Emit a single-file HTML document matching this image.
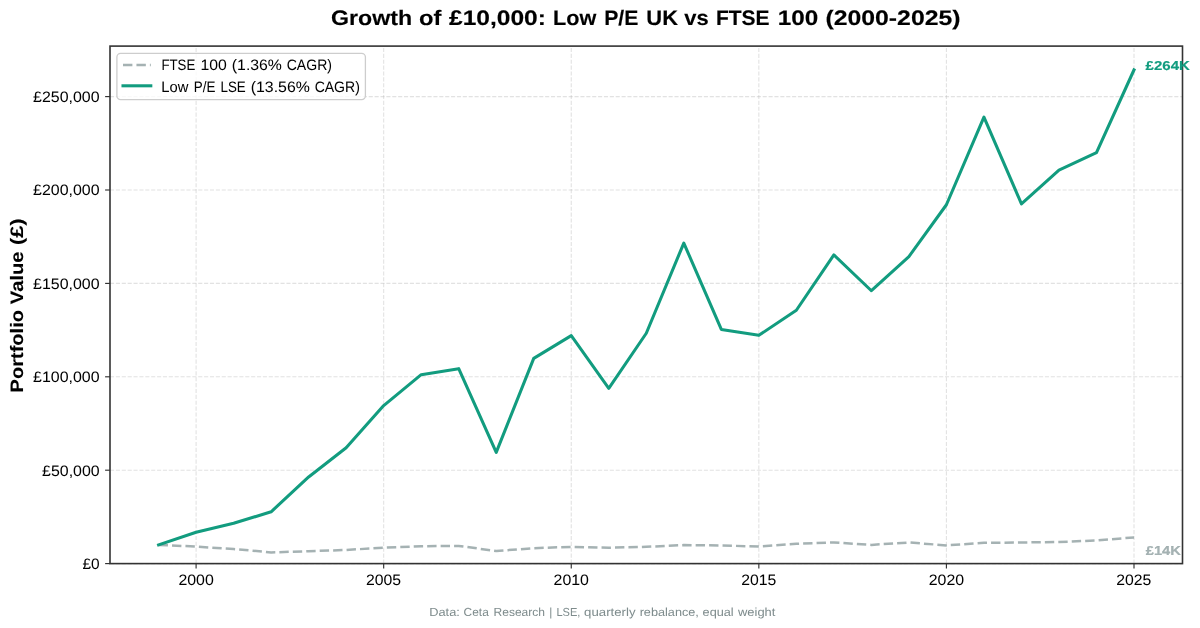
<!DOCTYPE html>
<html><head><meta charset="utf-8"><style>
html,body{margin:0;padding:0;background:#fff;width:1200px;height:628px;overflow:hidden}
svg{display:block;will-change:transform}
text{font-family:"Liberation Sans", sans-serif;text-rendering:geometricPrecision}
</style></head><body>
<svg width="1200" height="628" viewBox="0 0 1200 628">
<rect x="0" y="0" width="1200" height="628" fill="#fff"/>
<g stroke="#b0b0b0" stroke-opacity="0.36" stroke-width="1.11" stroke-dasharray="4.1 1.78" fill="none"><line x1="110.0" y1="563.60" x2="1182.5" y2="563.60"/><line x1="110.0" y1="470.20" x2="1182.5" y2="470.20"/><line x1="110.0" y1="376.80" x2="1182.5" y2="376.80"/><line x1="110.0" y1="283.40" x2="1182.5" y2="283.40"/><line x1="110.0" y1="190.00" x2="1182.5" y2="190.00"/><line x1="110.0" y1="96.60" x2="1182.5" y2="96.60"/><line x1="196.10" y1="563.6" x2="196.10" y2="46.1"/><line x1="383.68" y1="563.6" x2="383.68" y2="46.1"/><line x1="571.26" y1="563.6" x2="571.26" y2="46.1"/><line x1="758.84" y1="563.6" x2="758.84" y2="46.1"/><line x1="946.42" y1="563.6" x2="946.42" y2="46.1"/><line x1="1134.00" y1="563.6" x2="1134.00" y2="46.1"/></g>
<path d="M158.58,544.92 L196.10,546.60 L233.62,549.03 L271.13,552.39 L308.65,551.20 L346.16,549.96 L383.68,547.70 L421.20,546.19 L458.71,545.89 L496.23,550.99 L533.74,548.19 L571.26,546.88 L608.78,547.70 L646.29,546.79 L683.81,545.11 L721.32,545.48 L758.84,546.49 L796.36,543.80 L833.87,542.40 L871.39,544.90 L908.90,542.49 L946.42,545.39 L983.94,542.87 L1021.45,542.49 L1058.97,541.99 L1096.48,540.49 L1134.00,537.39" fill="none" stroke="#95a5a6" stroke-opacity="0.85" stroke-width="2.5" stroke-dasharray="9.39 4.06" stroke-linejoin="round" stroke-linecap="butt"/>
<path d="M158.58,544.92 L196.10,532.29 L233.62,523.29 L271.13,511.78 L308.65,476.98 L346.16,447.67 L383.68,405.57 L421.20,374.65 L458.71,368.66 L496.23,452.38 L533.74,358.36 L571.26,335.65 L608.78,388.27 L646.29,333.26 L683.81,243.05 L721.32,329.45 L758.84,335.35 L796.36,310.24 L833.87,254.93 L871.39,290.74 L908.90,256.54 L946.42,204.76 L983.94,117.20 L1021.45,203.82 L1058.97,170.11 L1096.48,152.60 L1134.00,69.89" fill="none" stroke="#129c7f" stroke-width="3.06" stroke-linejoin="round" stroke-linecap="square"/>
<rect x="110.0" y="46.1" width="1072.5" height="517.5" fill="none" stroke="#333" stroke-width="1.6"/>
<g stroke="#333" stroke-width="1.15"><line x1="105.10" y1="563.60" x2="110.0" y2="563.60"/><line x1="105.10" y1="470.20" x2="110.0" y2="470.20"/><line x1="105.10" y1="376.80" x2="110.0" y2="376.80"/><line x1="105.10" y1="283.40" x2="110.0" y2="283.40"/><line x1="105.10" y1="190.00" x2="110.0" y2="190.00"/><line x1="105.10" y1="96.60" x2="110.0" y2="96.60"/><line x1="196.10" y1="563.6" x2="196.10" y2="568.50"/><line x1="383.68" y1="563.6" x2="383.68" y2="568.50"/><line x1="571.26" y1="563.6" x2="571.26" y2="568.50"/><line x1="758.84" y1="563.6" x2="758.84" y2="568.50"/><line x1="946.42" y1="563.6" x2="946.42" y2="568.50"/><line x1="1134.00" y1="563.6" x2="1134.00" y2="568.50"/></g>
<text transform="translate(82.43,569.05) scale(1.0221,1)" font-size="15.12" stroke="#000" stroke-width="0.02" fill="#000">£0</text>
<text transform="translate(42.06,475.65) scale(1.0538,1)" font-size="15.12" stroke="#000" stroke-width="0.02" fill="#000">£50,000</text>
<text transform="translate(33.10,382.25) scale(1.0550,1)" font-size="15.12" stroke="#000" stroke-width="0.02" fill="#000">£100,000</text>
<text transform="translate(33.10,288.85) scale(1.0550,1)" font-size="15.12" stroke="#000" stroke-width="0.02" fill="#000">£150,000</text>
<text transform="translate(33.10,195.45) scale(1.0550,1)" font-size="15.12" stroke="#000" stroke-width="0.02" fill="#000">£200,000</text>
<text transform="translate(33.10,102.05) scale(1.0550,1)" font-size="15.12" stroke="#000" stroke-width="0.02" fill="#000">£250,000</text>
<text transform="translate(178.39,584.70) scale(1.0519,1)" font-size="15.12" stroke="#000" stroke-width="0.02" fill="#000">2000</text>
<text transform="translate(365.97,584.70) scale(1.0444,1)" font-size="15.12" stroke="#000" stroke-width="0.02" fill="#000">2005</text>
<text transform="translate(553.55,584.70) scale(1.0519,1)" font-size="15.12" stroke="#000" stroke-width="0.02" fill="#000">2010</text>
<text transform="translate(741.13,584.70) scale(1.0444,1)" font-size="15.12" stroke="#000" stroke-width="0.02" fill="#000">2015</text>
<text transform="translate(928.71,584.70) scale(1.0519,1)" font-size="15.12" stroke="#000" stroke-width="0.02" fill="#000">2020</text>
<text transform="translate(1116.29,584.70) scale(1.0444,1)" font-size="15.12" stroke="#000" stroke-width="0.02" fill="#000">2025</text>
<rect x="116.9" y="53.3" width="248.5" height="46.3" rx="3.8" ry="3.8" fill="#fff" fill-opacity="0.8" stroke="#cdcdcd" stroke-width="1.3"/>
<line x1="123" y1="64.9" x2="150.8" y2="64.9" stroke="#95a5a6" stroke-opacity="0.85" stroke-width="2.5" stroke-dasharray="9.39 4.06"/>
<line x1="123" y1="85.8" x2="150.8" y2="85.8" stroke="#129c7f" stroke-width="3.06" stroke-linecap="square"/>
<text transform="translate(161.41,70.30) scale(0.8781,1)" font-size="15.08" stroke="#000" stroke-width="0.02" fill="#000">FTSE</text><text transform="translate(200.48,70.30) scale(1.0461,1)" font-size="15.08" stroke="#000" stroke-width="0.02" fill="#000">100</text><text transform="translate(231.85,70.30) scale(1.0474,1)" font-size="15.08" stroke="#000" stroke-width="0.02" fill="#000">(1.36%</text><text transform="translate(286.72,70.30) scale(0.9307,1)" font-size="15.08" stroke="#000" stroke-width="0.02" fill="#000">CAGR)</text>
<text transform="translate(161.28,91.80) scale(0.9787,1)" font-size="15.08" stroke="#000" stroke-width="0.02" fill="#000">Low</text><text transform="translate(193.77,91.80) scale(0.8897,1)" font-size="15.08" stroke="#000" stroke-width="0.02" fill="#000">P/E</text><text transform="translate(220.52,91.80) scale(0.8841,1)" font-size="15.08" stroke="#000" stroke-width="0.02" fill="#000">LSE</text><text transform="translate(250.77,91.80) scale(1.0512,1)" font-size="15.08" stroke="#000" stroke-width="0.02" fill="#000">(13.56%</text><text transform="translate(314.63,91.80) scale(0.9303,1)" font-size="15.08" stroke="#000" stroke-width="0.02" fill="#000">CAGR)</text>
<text transform="translate(1145.55,69.80) scale(1.1634,1)" font-size="12.95" font-weight="bold" stroke="#129c7f" stroke-width="0.15" fill="#129c7f">£264K</text>
<text transform="translate(1145.75,555.10) scale(1.1373,1)" font-size="12.95" font-weight="bold" stroke="#95a5a6" stroke-width="0.15" fill="#95a5a6" fill-opacity="0.85">£14K</text>
<text transform="translate(331.07,24.90) scale(1.1014,1)" font-size="21.00" font-weight="bold" stroke="#000" stroke-width="0.15" fill="#000">Growth</text><text transform="translate(418.93,24.90) scale(1.1311,1)" font-size="21.00" font-weight="bold" stroke="#000" stroke-width="0.15" fill="#000">of</text><text transform="translate(448.98,24.90) scale(1.1689,1)" font-size="21.00" font-weight="bold" stroke="#000" stroke-width="0.15" fill="#000">£10,000:</text><text transform="translate(552.99,24.90) scale(1.0301,1)" font-size="21.00" font-weight="bold" stroke="#000" stroke-width="0.15" fill="#000">Low</text><text transform="translate(604.23,24.90) scale(1.0078,1)" font-size="21.00" font-weight="bold" stroke="#000" stroke-width="0.15" fill="#000">P/E</text><text transform="translate(646.35,24.90) scale(1.0416,1)" font-size="21.00" font-weight="bold" stroke="#000" stroke-width="0.15" fill="#000">UK</text><text transform="translate(684.19,24.90) scale(1.0450,1)" font-size="21.00" font-weight="bold" stroke="#000" stroke-width="0.15" fill="#000">vs</text><text transform="translate(715.88,24.90) scale(0.9986,1)" font-size="21.00" font-weight="bold" stroke="#000" stroke-width="0.15" fill="#000">FTSE</text><text transform="translate(777.64,24.90) scale(1.1567,1)" font-size="21.00" font-weight="bold" stroke="#000" stroke-width="0.15" fill="#000">100</text><text transform="translate(825.42,24.90) scale(1.1811,1)" font-size="21.00" font-weight="bold" stroke="#000" stroke-width="0.15" fill="#000">(2000-2025)</text>
<g transform="translate(22.9,0) rotate(-90)"><text transform="translate(-392.45,0.00) scale(1.1142,1)" font-size="18.01" font-weight="bold" stroke="#000" stroke-width="0.08" fill="#000">Portfolio</text><text transform="translate(-304.22,0.00) scale(1.1224,1)" font-size="18.01" font-weight="bold" stroke="#000" stroke-width="0.08" fill="#000">Value</text><text transform="translate(-245.04,0.00) scale(1.2046,1)" font-size="18.01" font-weight="bold" stroke="#000" stroke-width="0.08" fill="#000">(£)</text></g>
<text transform="translate(429.24,616.00) scale(1.0985,1)" font-size="11.65" stroke="#7f8c8d" stroke-width="0.02" fill="#7f8c8d">Data:</text><text transform="translate(463.62,616.00) scale(1.0222,1)" font-size="11.65" stroke="#7f8c8d" stroke-width="0.02" fill="#7f8c8d">Ceta</text><text transform="translate(493.51,616.00) scale(1.0345,1)" font-size="11.65" stroke="#7f8c8d" stroke-width="0.02" fill="#7f8c8d">Research</text><text transform="translate(549.24,616.00) scale(1.0008,1)" font-size="11.65" stroke="#7f8c8d" stroke-width="0.02" fill="#7f8c8d">|</text><text transform="translate(556.45,616.00) scale(0.9474,1)" font-size="11.65" stroke="#7f8c8d" stroke-width="0.02" fill="#7f8c8d">LSE,</text><text transform="translate(584.12,616.00) scale(1.1352,1)" font-size="11.65" stroke="#7f8c8d" stroke-width="0.02" fill="#7f8c8d">quarterly</text><text transform="translate(639.63,616.00) scale(1.0903,1)" font-size="11.65" stroke="#7f8c8d" stroke-width="0.02" fill="#7f8c8d">rebalance,</text><text transform="translate(702.58,616.00) scale(1.0909,1)" font-size="11.65" stroke="#7f8c8d" stroke-width="0.02" fill="#7f8c8d">equal</text><text transform="translate(737.97,616.00) scale(1.1118,1)" font-size="11.65" stroke="#7f8c8d" stroke-width="0.02" fill="#7f8c8d">weight</text>
</svg>
</body></html>
